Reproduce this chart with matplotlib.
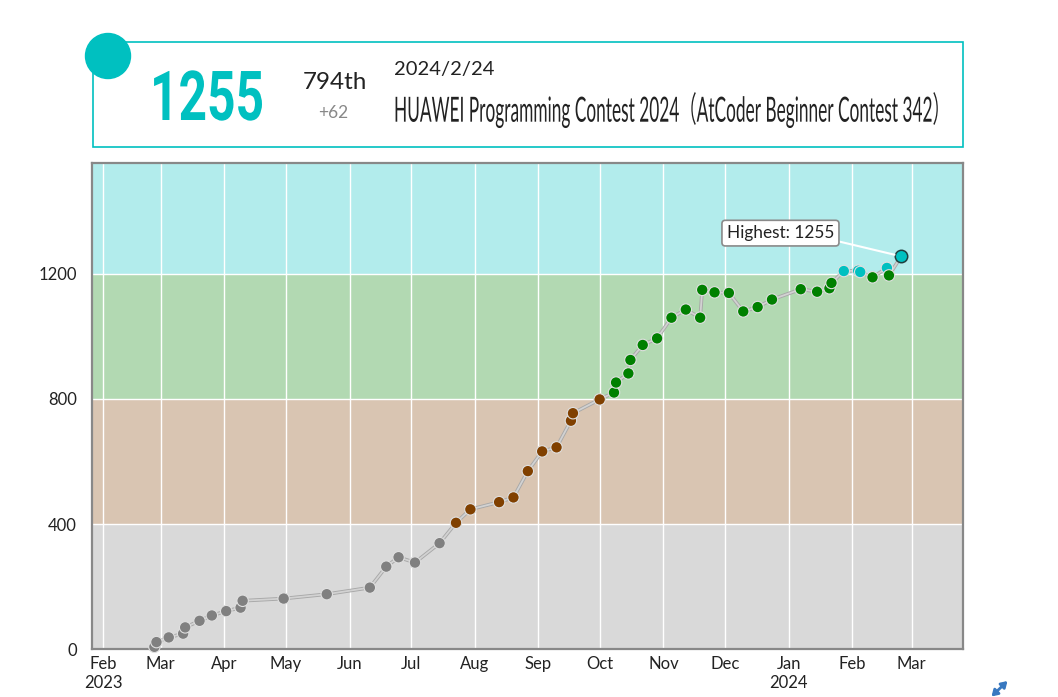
import matplotlib
matplotlib.use('Agg')
import matplotlib.pyplot as plt
import matplotlib.dates as mdates
import numpy as np
import pandas as pd
from matplotlib.patheffects import AbstractPathEffect, Stroke, Normal
from matplotlib.transforms import Affine2D
from matplotlib.patches import Rectangle, Circle

# ---------------- data ----------------
dates = [
    '2023-02-25', '2023-02-26', '2023-03-04', '2023-03-11', '2023-03-12', '2023-03-19',
    '2023-03-25', '2023-04-01', '2023-04-08', '2023-04-09', '2023-04-29', '2023-05-20',
    '2023-06-10', '2023-06-18', '2023-06-24', '2023-07-02', '2023-07-14',
    '2023-07-22', '2023-07-29', '2023-08-12', '2023-08-19', '2023-08-26', '2023-09-02',
    '2023-09-09', '2023-09-16', '2023-09-17', '2023-09-30',
    '2023-10-07', '2023-10-08', '2023-10-14', '2023-10-15', '2023-10-21', '2023-10-28',
    '2023-11-04', '2023-11-11', '2023-11-18', '2023-11-19', '2023-11-25', '2023-12-02',
    '2023-12-09', '2023-12-16', '2023-12-23', '2024-01-06', '2024-01-14', '2024-01-20',
    '2024-01-21', '2024-01-27', '2024-02-03', '2024-02-04', '2024-02-10', '2024-02-17',
    '2024-02-18', '2024-02-24',
]
ratings = [
    8, 23, 38, 50, 70, 91,
    108, 122, 133, 155, 162, 176,
    197, 264, 294, 277, 339,
    404, 447, 470, 485, 569, 632,
    645, 730, 754, 798,
    820, 852, 881, 924, 972, 993,
    1059, 1085, 1059, 1148, 1140, 1138,
    1079, 1093, 1117, 1150, 1142, 1153,
    1170, 1208, 1209, 1205, 1188, 1218,
    1194, 1255,
]
band_edges = [0, 400, 800, 1200, 1600]
band_colors = ['#D9D9D9', '#D9C5B2', '#B2D9B2', '#B2ECEC']
point_colors = ['#808080', '#804000', '#008000', '#00C0C0']
month_ticks = pd.date_range('2023-02-01', '2024-03-01', freq='MS')
month_labels = ['Feb\n2023', 'Mar', 'Apr', 'May', 'Jun', 'Jul', 'Aug', 'Sep', 'Oct',
                'Nov', 'Dec', 'Jan\n2024', 'Feb', 'Mar']
y_ticks = [0, 400, 800, 1200]

current_rating = '1255'
rank_text = '794th'
diff_text = '+62'
contest_date = '2024/2/24'
contest_name = 'HUAWEI Programming Contest 2024（AtCoder Beginner Contest 342）'

plt.rcParams['font.family'] = ['Lato', 'DejaVu Sans']


class FitScale(AbstractPathEffect):
    """Scale drawn text about a display point (x0, y0)."""
    def __init__(self, sx, sy, x0, y0):
        super().__init__()
        self.sx, self.sy, self.x0, self.y0 = sx, sy, x0, y0

    def draw_path(self, renderer, gc, tpath, affine, rgbFace=None):
        t = affine + (Affine2D().translate(-self.x0, -self.y0)
                      .scale(self.sx, self.sy).translate(self.x0, self.y0))
        renderer.draw_path(gc, tpath, t, rgbFace)


W, H = 1058, 697
fig = plt.figure(figsize=(W / 100, H / 100), dpi=100)
fig.patch.set_facecolor('white')

# ---------------- chart ----------------
ax = fig.add_axes([92.3 / W, (H - 649.3) / H, (962.7 - 92.3) / W, (649.3 - 162.7) / H])
x = mdates.date2num(pd.to_datetime(dates) + pd.Timedelta(hours=21, minutes=40))
feb1 = mdates.date2num(pd.Timestamp('2023-02-01'))
ax.set_xlim(feb1 - 5.36, feb1 + 418.85)
ax.set_ylim(0, 1554)

for lo, hi, c in zip(band_edges[:-1], band_edges[1:], band_colors):
    ax.axhspan(lo, hi, color=c, lw=0, zorder=0)
for b in band_edges[1:-1]:
    ax.axhline(b, color='white', lw=1.0, zorder=1)
for m in mdates.date2num(month_ticks):
    ax.axvline(m, color='white', lw=1.0, zorder=1)

ax.plot(x, ratings, color='#d2d2d2', lw=1.3, zorder=2,
        path_effects=[Stroke(linewidth=2.6, foreground='#a8a8a8'), Normal()])

ratings_arr = np.array(ratings)
cols = [point_colors[np.searchsorted(band_edges, r, side='right') - 1] for r in ratings]
hi_idx = int(np.argmax(ratings_arr))
mask = np.arange(len(ratings)) != hi_idx
ax.scatter(x[mask], ratings_arr[mask], s=68, c=[c for c, m in zip(cols, mask) if m],
           edgecolors='#e0e0e0', linewidths=0.8, zorder=3, clip_on=False)
ax.scatter([x[hi_idx]], [ratings_arr[hi_idx]], s=80, c=[cols[hi_idx]],
           edgecolors='#1f3f3f', linewidths=1.1, zorder=4, clip_on=False)

ax.annotate(f'Highest: {ratings_arr.max()}', xy=(x[hi_idx], ratings_arr[hi_idx]),
            xytext=(-120.8, 23.2), textcoords='offset pixels', ha='center', va='center',
            fontsize=12.4, color='#222222',
            bbox=dict(boxstyle='round,pad=0.28,rounding_size=0.2', fc='white', ec='#8a8a8a', lw=1.2),
            arrowprops=dict(arrowstyle='-', color='white', lw=1.5, relpos=(1.0, 0.05),
                            shrinkA=0, shrinkB=5),
            zorder=6)

ax.set_xticks(mdates.date2num(month_ticks))
ax.set_xticklabels(month_labels)
ax.set_yticks(y_ticks)
ax.tick_params(axis='both', length=0, labelsize=12, labelcolor='#222222')
ax.tick_params(axis='x', pad=5)
ax.tick_params(axis='y', pad=11)
for s in ax.spines.values():
    s.set_color('#888888')
    s.set_linewidth(1.6)

# ---------------- header ----------------
hdr = fig.add_axes([0, 0, 1, 1], zorder=5)
hdr.set_xlim(0, W)
hdr.set_ylim(H, 0)
hdr.axis('off')
hdr.patch.set_alpha(0)
hdr.add_patch(Rectangle((92.6, 42.3), 963 - 92.6, 146.7 - 42.3, fc='white', ec='#00C0C0', lw=1.2))
hdr.add_patch(Circle((108, 56), 22.5, color='#00C0C0'))

t_rating = hdr.text(150, 120, current_rating, fontsize=49.6, fontweight='bold', color='#00C0C0',
                    ha='left', va='baseline', family=['Roboto', 'DejaVu Sans'])
hdr.text(302.3, 89.3, rank_text, fontsize=17.5, color='#222222', ha='left', va='baseline')
hdr.text(333, 118.3, diff_text, fontsize=12.5, color='#888888', ha='center', va='baseline')
hdr.text(394, 75, contest_date, fontsize=14.5, color='#222222', ha='left', va='baseline')
t_title = hdr.text(394, 121.7, contest_name, fontsize=25, color='#222222', ha='left',
                   va='baseline', family=['Lato', 'Noto Sans CJK JP', 'DejaVu Sans'])

# resize icon
hdr.annotate('', xy=(1007.5, 681), xytext=(991.5, 696.5),
             arrowprops=dict(arrowstyle='<|-|>,head_length=0.35,head_width=0.22',
                             color='#3878c0', lw=2.0, shrinkA=0, shrinkB=0),
             annotation_clip=False)

# fit the rating number and the contest name into their boxes, keeping their height
fig.canvas.draw()
renderer = fig.canvas.get_renderer()
for t, target, base in ((t_rating, 114.0, (150, 120)), (t_title, 557.0, (394, 121.7))):
    size = t.get_fontsize()
    bw = t.get_window_extent(renderer).width
    s = target / bw
    t.set_fontsize(size * s)
    x0, y0 = hdr.transData.transform(base)
    t.set_path_effects([FitScale(1.0, 1.0 / s, x0, y0)])

fig.savefig('out.png', dpi=100)
